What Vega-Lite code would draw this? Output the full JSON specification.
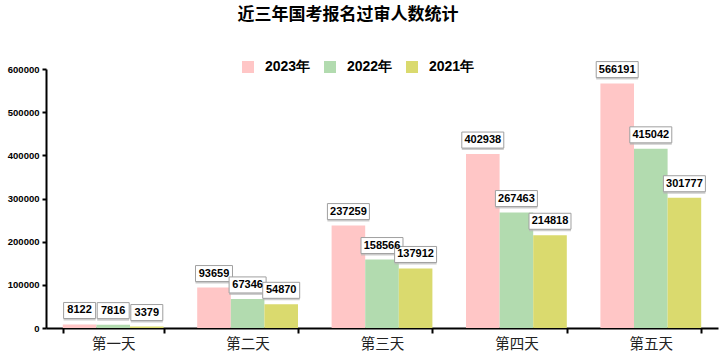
{
  "$schema": "https://vega.github.io/schema/vega-lite/v6.json",
  "autosize": "none",
  "width": 672,
  "height": 259,
  "padding": {"left": 46, "top": 69, "right": 5, "bottom": 32},
  "background": "white",
  "config": {"view": {"stroke": null}},
  "title": {
    "text": "近三年国考报名过审人数统计",
    "font": "Noto Sans CJK SC",
    "fontSize": 17,
    "fontWeight": "bold",
    "color": "#000000",
    "anchor": "middle",
    "dx": -34,
    "offset": 36
  },
  "data": {
    "values": [
      {"day": "第一天", "year": "2023年", "v": 8122},
      {"day": "第一天", "year": "2022年", "v": 7816},
      {"day": "第一天", "year": "2021年", "v": 3379},
      {"day": "第二天", "year": "2023年", "v": 93659},
      {"day": "第二天", "year": "2022年", "v": 67346},
      {"day": "第二天", "year": "2021年", "v": 54870},
      {"day": "第三天", "year": "2023年", "v": 237259},
      {"day": "第三天", "year": "2022年", "v": 158566},
      {"day": "第三天", "year": "2021年", "v": 137912},
      {"day": "第四天", "year": "2023年", "v": 402938},
      {"day": "第四天", "year": "2022年", "v": 267463},
      {"day": "第四天", "year": "2021年", "v": 214818},
      {"day": "第五天", "year": "2023年", "v": 566191},
      {"day": "第五天", "year": "2022年", "v": 415042},
      {"day": "第五天", "year": "2021年", "v": 301777}
    ]
  },
  "encoding": {
    "x": {
      "field": "day",
      "type": "nominal",
      "sort": ["第一天", "第二天", "第三天", "第四天", "第五天"],
      "scale": {"paddingInner": 0.25, "paddingOuter": 0.125},
      "axis": {
        "title": null,
        "labelAngle": 0,
        "labelFont": "Noto Sans CJK SC",
        "labelFontSize": 14.5,
        "labelColor": "#222222",
        "labelPadding": 4,
        "domainColor": "#000000",
        "domainWidth": 2,
        "tickColor": "#000000",
        "tickWidth": 2,
        "tickSize": 5,
        "tickBand": "extent",
        "grid": false
      }
    },
    "xOffset": {
      "field": "year",
      "type": "nominal",
      "sort": ["2023年", "2022年", "2021年"]
    },
    "y": {
      "field": "v",
      "type": "quantitative",
      "scale": {"domain": [0, 600000], "nice": false},
      "axis": {
        "title": null,
        "values": [0, 100000, 200000, 300000, 400000, 500000, 600000],
        "format": "d",
        "labelFont": "Liberation Sans",
        "labelFontSize": 9.5,
        "labelFontWeight": "bold",
        "labelColor": "#000000",
        "labelPadding": 3,
        "domainColor": "#000000",
        "domainWidth": 2,
        "tickColor": "#000000",
        "tickWidth": 2,
        "tickSize": 4,
        "grid": false
      }
    }
  },
  "layer": [
    {
      "mark": {"type": "bar"},
      "encoding": {
        "color": {
          "field": "year",
          "type": "nominal",
          "sort": ["2023年", "2022年", "2021年"],
          "scale": {
            "domain": ["2023年", "2022年", "2021年"],
            "range": ["#FFC6C6", "#B2DBAF", "#DADA6E"]
          },
          "legend": {
            "title": null,
            "orient": "none",
            "direction": "horizontal",
            "legendX": 195,
            "legendY": -9,
            "symbolType": "square",
            "symbolSize": 144,
            "symbolStrokeWidth": 0,
            "labelFont": "Liberation Sans",
            "labelFontSize": 14,
            "labelFontWeight": "bold",
            "labelColor": "#000000",
            "labelOffset": 10,
            "columnPadding": 12
          }
        }
      }
    },
    {
      "mark": {"type": "point", "filled": true, "fill": "#b8b8b8", "opacity": 0.7, "strokeWidth": 0, "xOffset": 2, "yOffset": -12},
      "encoding": {
        "size": {"value": 2025},
        "shape": {
          "condition": [
            {"test": "datum.v >= 100000", "value": "M-0.933,-0.356H0.933V0.356H-0.933Z"},
            {"test": "datum.v >= 10000", "value": "M-0.822,-0.356H0.822V0.356H-0.822Z"}
          ],
          "value": "M-0.711,-0.356H0.711V0.356H-0.711Z"
        }
      }
    },
    {
      "mark": {"type": "point", "filled": false, "fill": "#ffffff", "fillOpacity": 1, "opacity": 1, "stroke": "#a0a0a0", "strokeWidth": 1, "yOffset": -14},
      "encoding": {
        "size": {"value": 2025},
        "shape": {
          "condition": [
            {"test": "datum.v >= 100000", "value": "M-0.933,-0.356H0.933V0.356H-0.933Z"},
            {"test": "datum.v >= 10000", "value": "M-0.822,-0.356H0.822V0.356H-0.822Z"}
          ],
          "value": "M-0.711,-0.356H0.711V0.356H-0.711Z"
        }
      }
    },
    {
      "mark": {"type": "text", "font": "Liberation Sans", "fontSize": 11, "fontWeight": "bold", "color": "#000000", "baseline": "middle", "dy": -14},
      "encoding": {
        "text": {"field": "v", "type": "quantitative", "format": "d"}
      }
    }
  ]
}
